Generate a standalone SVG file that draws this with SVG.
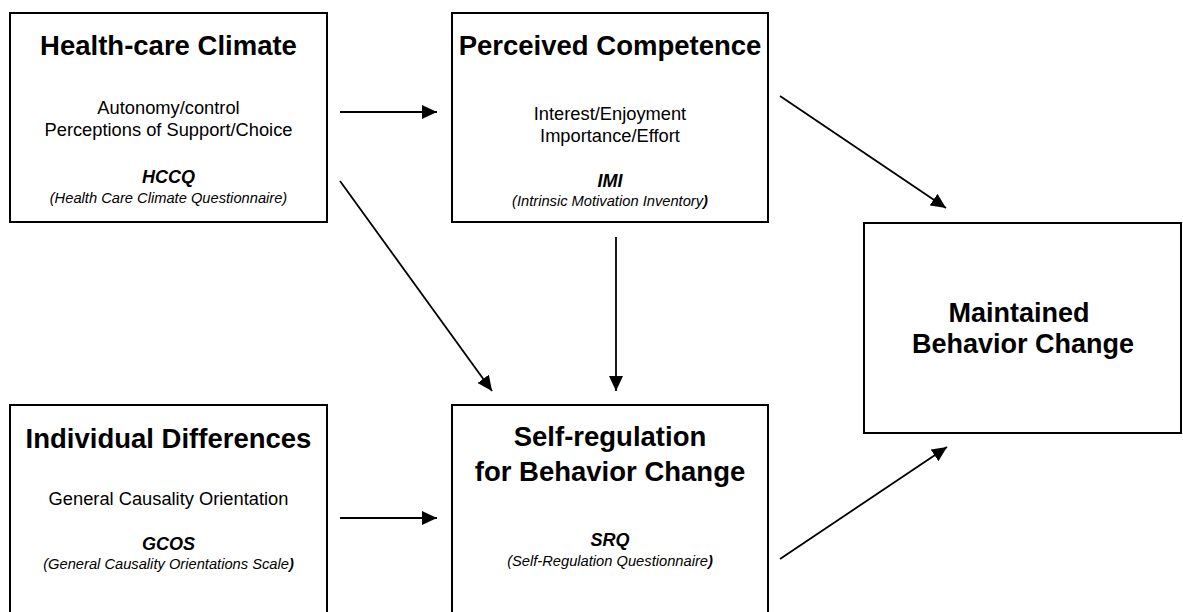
<svg xmlns="http://www.w3.org/2000/svg" width="1183" height="612" viewBox="0 0 1183 612">
<defs>
<marker id="ah" markerUnits="userSpaceOnUse" markerWidth="16" markerHeight="14" refX="15" refY="7" orient="auto">
<path d="M0,0 L15,7 L0,14 z" fill="#000"/>
</marker>
<style>
.box{fill:#fff;stroke:#000;stroke-width:2}
text{font-family:"Liberation Sans",Arial,sans-serif;fill:#000;text-anchor:middle}
.t{font-size:27.5px;font-weight:bold}
.m{font-size:27px;font-weight:bold}
.b{font-size:18.3px}
.a{font-size:18px;font-weight:bold;font-style:italic}
.p{font-size:14.7px;font-style:italic}
.bp{font-weight:bold}
.c line{stroke:#000;stroke-width:1.8;marker-end:url(#ah)}
</style>
</defs>
<rect width="1183" height="612" fill="#fff"/>
<g id="health-care-climate">
<rect class="box" x="10" y="13" width="317" height="209"/>
<text class="t" x="168.5" y="55">Health-care Climate</text>
<text class="b" x="168.5" y="114">Autonomy/control</text>
<text class="b" x="168.5" y="136">Perceptions of Support/Choice</text>
<text class="a" x="168.5" y="183">HCCQ</text>
<text class="p" x="168.5" y="203">(Health Care Climate Questionnaire)</text>
</g>
<g id="perceived-competence">
<rect class="box" x="452" y="13" width="316" height="209"/>
<text class="t" x="610" y="55">Perceived Competence</text>
<text class="b" x="610" y="120">Interest/Enjoyment</text>
<text class="b" x="610" y="142">Importance/Effort</text>
<text class="a" x="610" y="187">IMI</text>
<text class="p" x="610" y="206">(Intrinsic Motivation Inventory<tspan class="bp">)</tspan></text>
</g>
<g id="maintained-behavior-change">
<rect class="box" x="864" y="223" width="317" height="210"/>
<text class="m" x="1019" y="322">Maintained</text>
<text class="m" x="1023" y="353">Behavior Change</text>
</g>
<g id="individual-differences">
<rect class="box" x="10" y="405" width="317" height="230"/>
<text class="t" x="168.5" y="448">Individual Differences</text>
<text class="b" x="168.5" y="505">General Causality Orientation</text>
<text class="a" x="168.5" y="550">GCOS</text>
<text class="p" x="168.5" y="569">(General Causality Orientations Scale<tspan class="bp">)</tspan></text>
</g>
<g id="self-regulation">
<rect class="box" x="452" y="405" width="316" height="230"/>
<text class="t" x="610" y="446">Self-regulation</text>
<text class="t" x="610" y="481">for Behavior Change</text>
<text class="a" x="610" y="546">SRQ</text>
<text class="p" x="610" y="566">(Self-Regulation Questionnaire<tspan class="bp">)</tspan></text>
</g>
<g id="connectors" class="c">
<line x1="340" y1="112" x2="437" y2="112"/>
<line x1="340" y1="181" x2="492" y2="391"/>
<line x1="616" y1="237" x2="616" y2="391"/>
<line x1="780" y1="96" x2="946" y2="208"/>
<line x1="340" y1="518" x2="437" y2="518"/>
<line x1="780" y1="559" x2="947" y2="447"/>
</g>
</svg>
